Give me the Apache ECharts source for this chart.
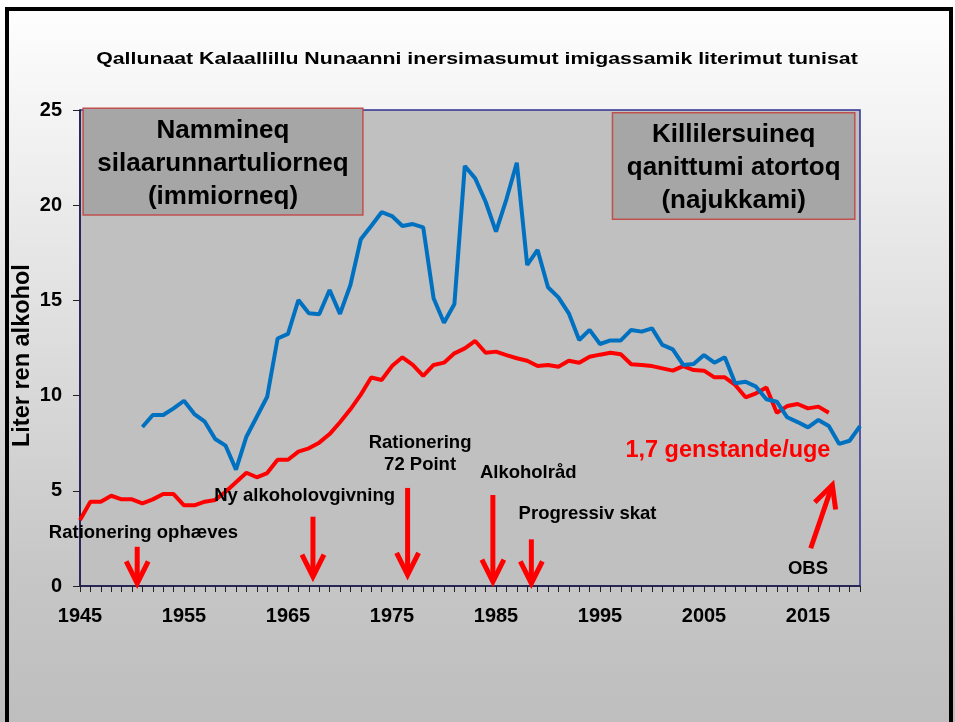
<!DOCTYPE html>
<html>
<head>
<meta charset="utf-8">
<script src="https://cdn.jsdelivr.net/npm/echarts@6/dist/echarts.min.js"></script>
<style>
  html, body { margin: 0; padding: 0; }
  #chart { width: 955px; height: 722px; }
</style>
</head>
<body>
<div id="chart"></div>
<script>
// years on the x axis
var years = ['1945','1946','1947','1948','1949','1950','1951','1952','1953','1954',
  '1955','1956','1957','1958','1959','1960','1961','1962','1963','1964',
  '1965','1966','1967','1968','1969','1970','1971','1972','1973','1974',
  '1975','1976','1977','1978','1979','1980','1981','1982','1983','1984',
  '1985','1986','1987','1988','1989','1990','1991','1992','1993','1994',
  '1995','1996','1997','1998','1999','2000','2001','2002','2003','2004',
  '2005','2006','2007','2008','2009','2010','2011','2012','2013','2014',
  '2015','2016','2017','2018','2019','2020']

// Kalaallit (blue), from 1951
var blueValues = [null,null,null,null,null,null,8.35,8.98,8.98,9.33,
  9.73,9.03,8.63,7.72,7.37,6.11,7.84,8.89,9.94,13.0,
  13.24,15.02,14.32,14.27,15.55,14.29,15.81,18.21,18.91,19.63,
  19.43,18.91,19.01,18.84,15.11,13.83,14.81,22.06,21.41,20.18,
  18.61,20.31,22.23,16.86,17.65,15.69,15.16,14.32,12.92,13.45,
  12.71,12.9,12.9,13.45,13.36,13.53,12.66,12.43,11.61,11.66,
  12.13,11.73,12.01,10.65,10.73,10.47,9.81,9.68,8.86,8.61,
  8.33,8.72,8.40,7.46,7.63,8.40]

// Danmark (red), until 2017
var redValues = [3.47,4.43,4.43,4.74,4.55,4.55,4.34,4.55,4.83,4.83,
  4.24,4.24,4.43,4.52,4.95,5.45,5.95,5.71,5.93,6.63,
  6.63,7.06,7.23,7.53,7.98,8.6,9.28,10.05,10.95,10.82,
  11.55,12.01,11.61,11.03,11.61,11.73,12.22,12.48,12.87,12.25,
  12.31,12.13,11.96,11.83,11.55,11.61,11.52,11.83,11.73,12.04,
  12.15,12.25,12.17,11.65,11.61,11.55,11.43,11.31,11.55,11.34,
  11.31,10.96,10.96,10.56,9.91,10.12,10.43,9.10,9.45,9.56,
  9.33,9.42,9.10,null,null,null]

// annotations, placed in [year, liter] units
var notes = [
  { text: 'Rationering ophæves', at: [1951.1, 2.78] },
  { text: 'Ny alkoholovgivning', at: [1966.6, 4.73] },
  { text: 'Rationering\n72 Point', at: [1977.7, 6.96] },
  { text: 'Alkoholråd', at: [1988.1, 5.93] },
  { text: 'Progressiv skat', at: [1993.8, 3.78] },
  { text: 'OBS', at: [2015.0, 0.89] }
]
var redNote = { text: '1,7 genstande/uge', at: [2007.3, 7.14] }

var arrows = [
  { from: [1950.5, 2.06], to: [1950.5, 0.14] },
  { from: [1967.4, 3.64], to: [1967.4, 0.49] },
  { from: [1976.5, 5.15], to: [1976.5, 0.58] },
  { from: [1984.7, 4.78], to: [1984.7, 0.23] },
  { from: [1988.4, 2.45], to: [1988.4, 0.14] },
  { from: [2015.26, 1.98], to: [2017.34, 5.30] }
]

var boxes = [
  { text: 'Nammineq\nsilaarunnartuliorneq\n(immiorneq)', x: [1945.3, 1972.2], y: [25.09, 19.49] },
  { text: 'Killilersuineq\nqanittumi atortoq\n(najukkami)', x: [1996.2, 2019.5], y: [24.86, 19.26] }
]

var titleText = 'Qallunaat Kalaallillu Nunaanni inersimasumut imigassamik literimut tunisat'
var yName = 'Liter ren alkohol'

var FONT = 'Liberation Sans, Arial, sans-serif'

var chart = echarts.init(document.getElementById('chart'))

var option = {
  animation: false,
  backgroundColor: {
    type: 'linear', x: 0, y: 0, x2: 0, y2: 1,
    colorStops: [
      { offset: 0, color: '#ffffff' },
      { offset: 0.8, color: '#c6c6c6' },
      { offset: 1, color: '#bebebe' }
    ]
  },
  grid: {
    left: 80, right: 95, top: 110, bottom: 136,
    outerBoundsMode: 'none',
    containLabel: false,
    show: true,
    backgroundColor: '#c0c0c0',
    borderColor: '#2e3192',
    borderWidth: 1.5
  },
  xAxis: [{
    type: 'category',
    data: years,
    boundaryGap: false,
    axisLine: { lineStyle: { color: '#1a1a40', width: 1.5 } },
    axisTick: { interval: 0, length: 6, lineStyle: { color: '#222' } },
    axisLabel: {
      interval: 9, margin: 20,
      fontFamily: FONT, fontSize: 20, fontWeight: 'bold', color: '#000'
    },
    splitLine: { show: false }
  }, {
    // hidden helper axis for placing annotations in year units
    type: 'value', min: 1945, max: 2020, show: false, position: 'top'
  }],
  yAxis: {
    type: 'value',
    min: 0, max: 25, interval: 5,
    axisLine: { show: true, lineStyle: { color: '#1a1a40', width: 1.5 } },
    axisTick: { show: true, length: 7, lineStyle: { color: '#222' } },
    axisLabel: { margin: 18, fontFamily: FONT, fontSize: 20, fontWeight: 'bold', color: '#000' },
    splitLine: { show: false }
  },
  series: [{
    name: 'Danmark',
    type: 'line',
    data: redValues,
    symbol: 'none',
    lineStyle: { color: '#ff0000', width: 4 },
    z: 2
  }, {
    name: 'Kalaallit Nunaat',
    type: 'line',
    data: blueValues,
    symbol: 'none',
    lineStyle: { color: '#0070c0', width: 4 },
    z: 3
  }]
}

chart.setOption(option)

function px(p) {
  return [
    chart.convertToPixel({ xAxisIndex: 1 }, p[0]),
    chart.convertToPixel({ yAxisIndex: 0 }, p[1])
  ]
}

var graphics = []

// black slide frame
graphics.push({
  type: 'rect', z: 100,
  shape: { x: 7, y: 9, width: 944, height: 740 },
  style: { fill: 'none', stroke: '#000', lineWidth: 4 }
})

// title, drawn wide like the slide
graphics.push({
  type: 'text', z: 50, x: 477, y: 60, scaleX: 1.33,
  style: {
    text: titleText, fontFamily: FONT, fontSize: 16, fontWeight: 'bold',
    fill: '#000', align: 'center', verticalAlign: 'middle'
  }
})

// y axis name, a bit below the middle of the axis
var yn = px([1945, 12.1])
graphics.push({
  type: 'text', z: 50, x: yn[0] - 57, y: yn[1], rotation: Math.PI / 2,
  style: {
    text: yName, fontFamily: FONT, fontSize: 23.5, fontWeight: 'bold',
    fill: '#000', align: 'center', verticalAlign: 'middle'
  }
})

boxes.forEach(function (b) {
  var a = px([b.x[0], b.y[0]])
  var c = px([b.x[1], b.y[1]])
  graphics.push({
    type: 'rect', z: 50,
    shape: { x: a[0], y: a[1], width: c[0] - a[0], height: c[1] - a[1] },
    style: { fill: '#a6a6a6', stroke: '#c0504d', lineWidth: 1.5 }
  })
  graphics.push({
    type: 'text', z: 51, x: (a[0] + c[0]) / 2, y: (a[1] + c[1]) / 2 + 2,
    style: {
      text: b.text, fontFamily: FONT, fontSize: 26, fontWeight: 'bold',
      fill: '#000', align: 'center', verticalAlign: 'middle', lineHeight: 33
    }
  })
})

notes.forEach(function (n) {
  var p = px(n.at)
  graphics.push({
    type: 'text', z: 50, x: p[0], y: p[1],
    style: {
      text: n.text, fontFamily: FONT, fontSize: 18.5, fontWeight: 'bold',
      fill: '#000', align: 'center', verticalAlign: 'middle', lineHeight: 22
    }
  })
})

var rp = px(redNote.at)
graphics.push({
  type: 'text', z: 50, x: rp[0], y: rp[1],
  style: {
    text: redNote.text, fontFamily: FONT, fontSize: 23.5, fontWeight: 'bold',
    fill: '#ff0000', align: 'center', verticalAlign: 'middle'
  }
})

arrows.forEach(function (ar) {
  var t = px(ar.from)
  var h = px(ar.to)
  var dx = h[0] - t[0], dy = h[1] - t[1]
  var len = Math.sqrt(dx * dx + dy * dy)
  var ux = dx / len, uy = dy / len
  var L = 22, W = 11
  var bx = h[0] - ux * L, by = h[1] - uy * L
  graphics.push({
    type: 'polyline', z: 60,
    shape: { points: [t, [h[0] - ux * 2, h[1] - uy * 2]] },
    style: { stroke: '#ff0000', lineWidth: 5, fill: null }
  })
  graphics.push({
    type: 'polyline', z: 60,
    shape: { points: [[bx - uy * W, by + ux * W], [h[0], h[1]], [bx + uy * W, by - ux * W]] },
    style: { stroke: '#ff0000', lineWidth: 5, fill: null, lineJoin: 'miter' }
  })
})

chart.setOption({ graphic: graphics })
</script>
</body>
</html>
